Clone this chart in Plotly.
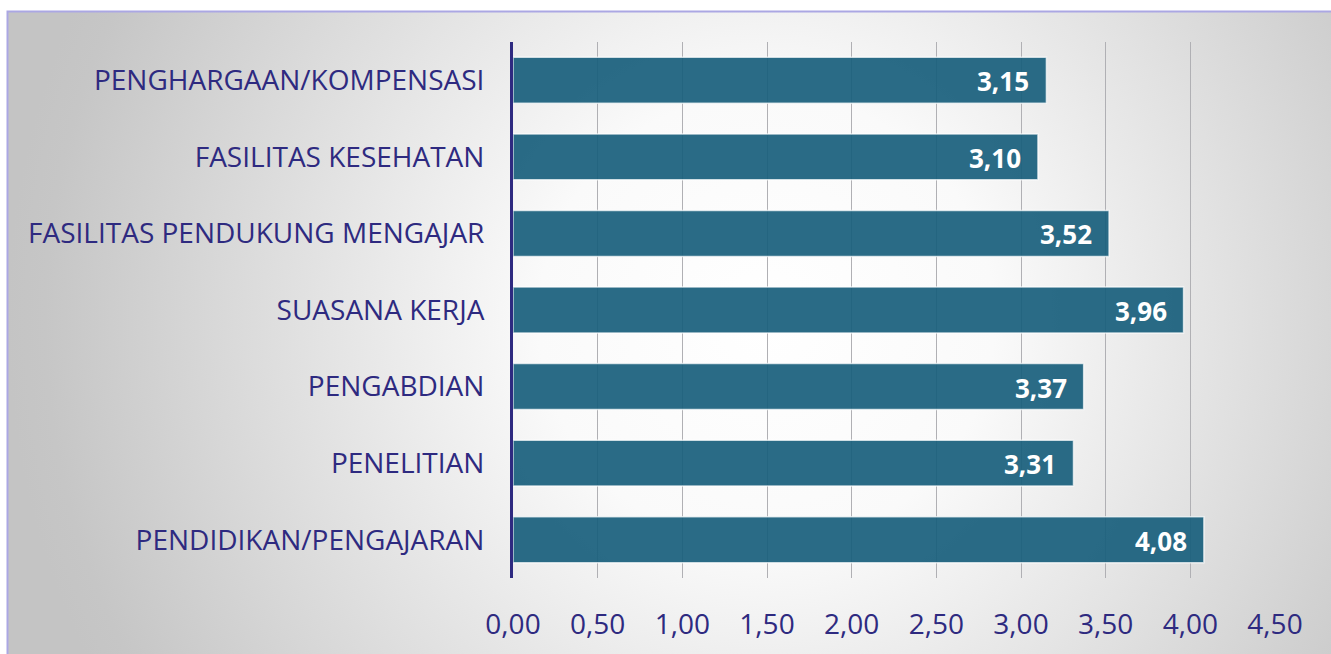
import base64
import plotly.graph_objects as go

categories = [
    "PENGHARGAAN/KOMPENSASI",
    "FASILITAS KESEHATAN",
    "FASILITAS PENDUKUNG MENGAJAR",
    "SUASANA KERJA",
    "PENGABDIAN",
    "PENELITIAN",
    "PENDIDIKAN/PENGAJARAN",
]
values = [3.15, 3.10, 3.52, 3.96, 3.37, 3.31, 4.08]
x_ticks = [0, 0.5, 1.0, 1.5, 2.0, 2.5, 3.0, 3.5, 4.0, 4.5]

W, H = 1331, 654
ML, MR, MT, MB = 513, 56, 42, 76
PW, PH = W - ML - MR, H - MT - MB


def px_to_paper_x(px):
    return (px - ML) / PW


def px_to_paper_y(py):
    return (H - MB - py) / PH


NAVY = "#2e2a80"

svg = (
    "<svg xmlns='http://www.w3.org/2000/svg' width='1330' height='650' preserveAspectRatio='none'>"
    "<defs><radialGradient id='g' gradientUnits='userSpaceOnUse' cx='760' cy='310' r='760'>"
    "<stop offset='0' stop-color='#ffffff'/>"
    "<stop offset='0.3' stop-color='#fafafa'/>"
    "<stop offset='0.95' stop-color='#c6c6c6'/>"
    "<stop offset='1' stop-color='#c4c4c4'/>"
    "</radialGradient></defs>"
    "<rect width='1330' height='650' fill='url(#g)'/></svg>"
)
src = "data:image/svg+xml;base64," + base64.b64encode(svg.encode()).decode()

fig = go.Figure()
fig.add_trace(
    go.Bar(
        x=values,
        y=categories,
        orientation="h",
        marker=dict(
            color="rgba(24,94,124,0.92)",
            line=dict(color="rgba(255,255,255,0.7)", width=1.5),
        ),
        hoverinfo="x+y",
    )
)

for c, v in zip(categories, values):
    fig.add_annotation(
        x=v, y=c, xref="x", yref="y",
        text="<b>" + f"{v:.2f}".replace(".", ",") + "</b>",
        showarrow=False, xanchor="right", yanchor="middle", xshift=-15, yshift=-1,
        font=dict(family="Open Sans", size=26, color="white"),
    )

fig.add_layout_image(
    dict(
        source=src, xref="paper", yref="paper",
        x=px_to_paper_x(7), y=px_to_paper_y(11),
        sizex=(W + 5 - 7) / PW, sizey=(H + 5 - 11) / PH,
        xanchor="left", yanchor="top", sizing="stretch", layer="below",
    )
)
fig.add_shape(
    type="rect", xref="paper", yref="paper",
    x0=px_to_paper_x(7.5), x1=px_to_paper_x(W + 10),
    y0=px_to_paper_y(H + 10), y1=px_to_paper_y(11.5),
    line=dict(color="#aba7e3", width=2), fillcolor="rgba(0,0,0,0)", layer="below",
)

fig.update_layout(
    width=W, height=H,
    margin=dict(l=ML, r=MR, t=MT, b=MB, autoexpand=False),
    paper_bgcolor="white",
    plot_bgcolor="rgba(0,0,0,0)",
    bargap=0.4,
    showlegend=False,
    separators=",.",
    font=dict(family="Open Sans", color=NAVY),
    xaxis=dict(
        range=[0, 4.5], tickvals=x_ticks, tickformat=".2f",
        showgrid=True, gridcolor="#b0b0b4", gridwidth=1,
        zeroline=False, showline=False, ticks="",
        tickfont=dict(family="Open Sans", size=28, color=NAVY),
        ticklabelstandoff=27, fixedrange=True,
    ),
    yaxis=dict(
        autorange="reversed", showgrid=False, zeroline=False,
        showline=True, linecolor=NAVY, linewidth=3, ticks="",
        tickfont=dict(family="Open Sans", size=28, color=NAVY),
        ticklabelstandoff=20, fixedrange=True,
    ),
)

fig.write_html(
    "out.html",
    config={"displayModeBar": False},
    post_script="document.body.style.margin='0';document.body.style.overflow='hidden';",
)
